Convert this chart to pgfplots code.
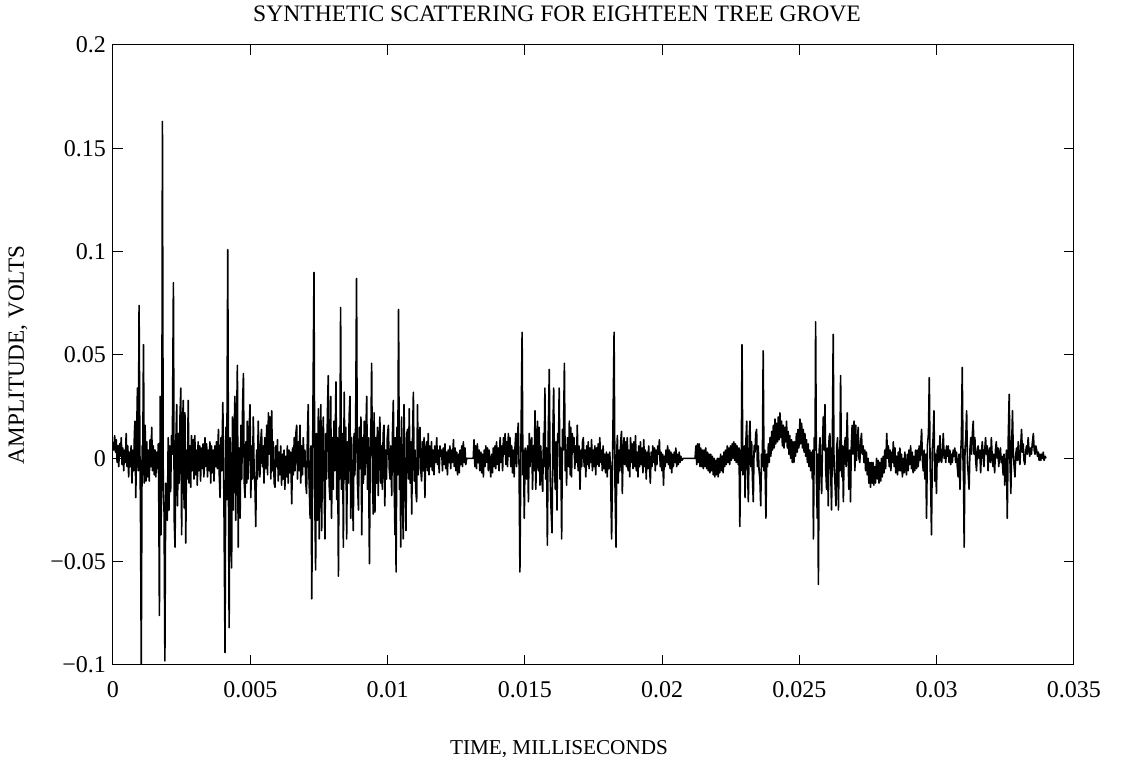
\documentclass[border=0pt]{standalone}
\usepackage{fontspec}
\setmainfont{Liberation Serif}
\usepackage{pgfplots}
\pgfplotsset{compat=1.18}
\begin{document}
\begin{tikzpicture}
\path[use as bounding box] (-56.5pt,-49.5pt) rectangle (504pt,332.5pt);
\begin{axis}[at={(0,0)},anchor=south west,scale only axis,
  width=480.5pt,height=310pt,
  xmin=0,xmax=0.035,ymin=-0.1,ymax=0.2,
  xtick={0,0.005,0.01,0.015,0.02,0.025,0.03,0.035},
  xticklabels={0,0.005,0.01,0.015,0.02,0.025,0.03,0.035},
  ytick={-0.1,-0.05,0,0.05,0.1,0.15,0.2},
  yticklabels={−0.1,−0.05,0,0.05,0.1,0.15,0.2},
  scaled x ticks=false,scaled y ticks=false,
  tick align=inside,major tick length=5pt,
  ticklabel style={font=\fontsize{12}{14}\selectfont},
  xticklabel style={yshift=-4.5pt},
  axis line style={line width=0.5pt},
  tick style={black,line width=0.5pt}]
\addplot[black,line width=0.8pt,line join=round] coordinates {
(0,0.008)(0.00003,0.004)(0.00006,0.011)(0.00009,0.003)(0.00012,0.009)(0.00015,-0.002)(0.00018,0.006)(0.00021,-0.004)(0.00024,0.007)(0.00027,0.001)(0.0003,0.01)(0.00033,-0.003)(0.00036,0.005)(0.00039,-0.006)(0.00042,0.004)(0.00045,-0.002)(0.00048,0.012)(0.00051,-0.004)(0.00054,0.006)(0.00057,-0.009)(0.0006,0.003)
(0.00063,-0.004)(0.00066,0.006)(0.00069,-0.012)(0.00072,0.004)(0.00075,-0.006)(0.00078,0.012)(0.0008,0.018)(0.00083,-0.019)(0.00086,0.01)(0.00089,0.034)(0.00092,-0.006)(0.00095,0.074)(0.00098,0.003)(0.001,-0.022)(0.00103,-0.1)(0.00106,0.006)(0.00108,-0.008)(0.00111,0.055)(0.00114,-0.012)(0.00117,0.016)(0.0012,-0.011)(0.00123,0.008)(0.00126,-0.009)(0.00129,0.004)(0.00132,-0.011)(0.00135,0.009)(0.00138,-0.004)(0.00141,0.015)(0.00144,-0.006)(0.00147,0.006)(0.0015,-0.008)(0.00153,0.004)(0.00156,-0.009)(0.00159,0.003)(0.00162,-0.005)(0.00165,0.007)(0.00167,-0.024)(0.00169,-0.076)(0.00172,0.03)(0.00175,-0.037)(0.00178,0.01)(0.0018,0.163)(0.00183,-0.015)(0.00186,-0.026)(0.00189,-0.098)(0.00192,-0.012)(0.00195,-0.021)(0.00198,-0.03)(0.00201,0.01)(0.00204,-0.025)(0.00207,0.006)(0.0021,-0.016)(0.00213,0.011)(0.00216,0.002)(0.0022,0.085)(0.00223,-0.03)(0.00226,-0.043)(0.00229,0.008)(0.00232,0.026)(0.00235,-0.023)(0.00238,0.012)(0.00241,-0.012)(0.00244,0.02)(0.00247,0.034)(0.0025,-0.037)(0.00253,0.016)(0.00256,0.028)(0.00259,-0.024)(0.00262,0.022)(0.00265,-0.041)(0.00268,0.004)(0.00271,-0.01)(0.00274,0.028)(0.00277,-0.012)(0.0028,0.006)(0.00283,-0.014)(0.00286,0.011)(0.00289,-0.006)(0.00292,0.009)(0.00295,-0.01)(0.00298,0.011)(0.00301,-0.008)(0.00304,0.004)(0.00307,-0.013)(0.0031,0.008)(0.00313,-0.006)(0.00316,0.006)(0.00319,-0.011)(0.00322,0.005)(0.00325,-0.005)(0.00328,0.007)(0.00331,-0.009)(0.00335,0.01)(0.00338,-0.004)(0.00341,0.007)(0.00344,-0.009)(0.00347,0.004)(0.0035,-0.006)(0.00353,0.008)(0.00356,-0.012)(0.00359,0.006)(0.00362,-0.007)(0.00365,0.004)(0.00368,-0.011)(0.00371,0.006)(0.00374,-0.004)(0.00377,0.008)(0.0038,-0.005)(0.00384,0.014)(0.00387,-0.008)(0.0039,-0.019)(0.00393,0.01)(0.00396,-0.006)(0.004,0.027)(0.00404,-0.02)(0.00408,-0.094)(0.00411,0.015)(0.00414,-0.02)(0.00418,0.101)(0.00421,-0.03)(0.00423,-0.082)(0.00426,0.01)(0.00429,-0.015)(0.00432,-0.053)(0.00435,0.02)(0.00438,-0.025)(0.00441,0.01)(0.00444,0.03)(0.00447,-0.03)(0.0045,0.015)(0.00453,0.045)(0.00456,-0.043)(0.00459,0.005)(0.00463,-0.029)(0.00466,0.016)(0.00469,-0.01)(0.00472,0.025)(0.00475,0.041)(0.00478,-0.012)(0.00481,-0.019)(0.00484,0.008)(0.00487,-0.012)(0.00489,0.018)(0.00492,-0.01)(0.00495,0.01)(0.00499,0.026)(0.00502,-0.019)(0.00505,0.006)(0.00508,-0.01)(0.00511,0.02)(0.00514,-0.006)(0.00517,-0.013)(0.0052,-0.033)
(0.00523,0.004)(0.00526,-0.01)(0.00529,0.018)(0.00532,-0.002)(0.00535,-0.009)(0.00538,0.008)(0.00541,0.014)(0.00544,-0.004)(0.00547,0.006)(0.0055,-0.012)(0.00553,0.01)(0.00556,-0.005)(0.0056,0.016)(0.00563,-0.008)(0.00566,0.022)(0.00569,0.002)(0.00572,0.02)(0.00575,-0.01)(0.00578,0.023)(0.00581,-0.006)(0.00584,0.008)(0.00587,-0.012)(0.0059,-0.014)(0.00593,0.006)(0.00596,-0.004)(0.00599,0.009)(0.00602,-0.011)(0.00605,0.003)(0.00608,-0.008)(0.00611,0.006)(0.00614,-0.013)(0.00617,0.002)(0.0062,-0.01)(0.00623,0.004)(0.00626,-0.015)(0.00629,0.001)(0.00632,-0.009)(0.00635,0.006)(0.00638,-0.012)(0.00641,0.004)(0.00644,-0.007)(0.00647,0.003)(0.00651,-0.022)(0.00654,0.005)(0.00657,-0.008)(0.0066,0.01)(0.00663,-0.006)(0.00666,0.012)(0.00669,0.016)(0.00672,-0.01)(0.00675,0.008)(0.00678,-0.006)(0.00681,0.016)(0.00684,-0.012)(0.00687,0.006)(0.0069,-0.008)(0.00693,0.01)(0.00696,-0.004)(0.00699,0.004)(0.00702,-0.012)(0.00705,-0.017)(0.00708,0.01)(0.00711,0.026)(0.00714,-0.01)(0.00718,-0.029)(0.00721,0.006)(0.00724,-0.068)(0.00728,0.02)(0.00732,0.09)(0.00735,-0.02)(0.00738,-0.054)(0.00741,0.012)(0.00744,-0.03)(0.00748,0.024)(0.00751,-0.039)(0.00754,0.01)(0.00757,0.026)(0.0076,-0.035)(0.00763,0.006)(0.00766,0.02)(0.00769,-0.015)(0.00772,-0.039)(0.00775,0.012)(0.00778,-0.01)(0.00781,0.022)(0.00784,0.04)(0.00787,-0.012)(0.0079,-0.02)(0.00793,0.03)(0.00796,-0.029)(0.00799,0.01)(0.00802,-0.015)(0.00805,0.018)(0.00808,-0.006)(0.00812,0.037)(0.00815,-0.02)(0.00818,0.01)(0.00821,-0.057)(0.00824,0.015)(0.00826,-0.01)(0.00829,0.073)(0.00832,-0.015)(0.00836,0.012)(0.00839,-0.043)(0.00842,0.032)(0.00845,-0.01)(0.00848,0.015)(0.00851,-0.039)(0.00854,0.008)(0.00857,-0.012)(0.0086,0.02)(0.00863,0.03)(0.00866,-0.029)(0.00869,0.01)(0.00872,-0.015)(0.00875,-0.035)(0.00878,0.012)(0.00881,-0.008)(0.00884,0.02)(0.00887,0.087)(0.0089,-0.01)(0.00894,-0.025)(0.00897,0.015)(0.009,-0.005)(0.00903,0.02)(0.00906,-0.037)(0.00909,0.01)(0.00912,-0.012)(0.00915,0.018)(0.00918,-0.008)(0.00921,0.012)(0.00924,0.03)(0.00927,-0.015)(0.0093,0.01)(0.00934,-0.051)(0.00937,0.005)(0.0094,0.02)(0.00942,0.046)(0.00945,-0.01)(0.00948,-0.027)(0.00951,0.022)(0.00954,-0.026)
(0.00957,0.01)(0.0096,-0.012)(0.00963,0.015)(0.00966,-0.018)(0.00969,0.008)(0.00972,0.02)(0.00975,-0.012)(0.00978,0.006)(0.00981,-0.015)(0.00984,0.012)(0.00987,0.016)(0.0099,-0.023)(0.00993,0.004)(0.00996,-0.01)(0.00999,0.01)(0.01003,0.016)(0.01006,-0.005)(0.01009,-0.01)(0.01012,0.006)(0.01015,-0.018)(0.01018,0.012)(0.01021,0.028)(0.01024,-0.012)(0.01027,-0.037)(0.01029,0.01)(0.01031,-0.055)(0.01034,0.015)(0.01037,-0.008)(0.0104,0.072)(0.01043,-0.015)(0.01045,0.01)(0.01048,-0.043)(0.01051,0.02)(0.01054,-0.015)(0.01057,-0.039)(0.0106,0.026)(0.01063,-0.006)(0.01067,-0.035)(0.0107,0.012)(0.01073,0.014)(0.01076,-0.01)(0.01079,0.024)(0.01082,-0.012)(0.01085,0.008)(0.01088,-0.027)(0.01091,0.01)(0.01094,0.032)(0.01097,-0.011)(0.011,0.004)(0.01103,-0.016)(0.01106,-0.021)(0.01109,0.026)(0.01112,-0.008)(0.01115,0.01)(0.01118,0.015)(0.01121,-0.006)(0.01124,-0.011)(0.01127,0.008)(0.0113,-0.006)(0.01133,0.01)(0.01136,-0.019)(0.01139,0.004)(0.01142,0.008)(0.01145,-0.006)(0.01148,0.012)(0.01151,-0.008)(0.01154,0.006)
(0.01157,-0.004)(0.0116,0.008)(0.01163,-0.006)(0.01166,0.004)(0.01169,-0.008)(0.01172,0.006)(0.01175,-0.002)(0.01179,0.01)(0.01182,-0.003)(0.01185,0.004)(0.01188,-0.007)(0.01191,0.006)(0.01194,0.001)(0.01197,0.004)(0.012,-0.006)(0.01203,0.005)(0.01206,-0.003)(0.01209,0.007)(0.01212,-0.005)(0.01215,0.003)(0.01218,-0.008)(0.01221,0.004)(0.01224,-0.002)(0.01227,0.006)(0.0123,-0.005)(0.01233,0.004)(0.01236,-0.002)(0.0124,0.009)(0.01243,-0.004)(0.01246,0.005)(0.01249,-0.006)(0.01252,0.003)(0.01255,-0.008)(0.01258,0.002)(0.01261,-0.007)(0.01264,0.004)(0.01267,-0.003)(0.0127,0.006)(0.01273,-0.004)(0.01276,0.008)(0.01279,-0.002)(0.01282,0.005)(0.01285,-0.003)(0.01288,0)(0.01312,0)
(0.01315,0.009)(0.01318,-0.004)(0.01321,0.006)(0.01324,-0.005)(0.01327,0.007)(0.0133,-0.002)(0.01333,0.004)(0.01336,-0.006)(0.0134,0.003)(0.01343,-0.007)(0.01346,0.002)(0.01349,-0.009)(0.01352,0.004)(0.01355,-0.004)(0.01358,0.006)(0.01361,-0.002)(0.01364,0.005)(0.01367,-0.006)(0.0137,0.004)(0.01373,-0.003)
(0.01376,-0.009)(0.01379,0.002)(0.01382,-0.007)(0.01385,0.005)(0.01388,-0.004)(0.01391,0.006)(0.01394,-0.005)(0.01397,0.008)(0.014,-0.003)(0.01403,0.005)(0.01406,-0.006)(0.0141,0.01)(0.01413,-0.002)(0.01416,0.006)(0.01419,-0.006)(0.01422,0.01)(0.01425,0.002)(0.01428,0.012)(0.01431,-0.003)(0.01434,0.008)(0.01437,-0.004)(0.0144,0.012)(0.01443,0.001)(0.01446,0.01)(0.01449,-0.004)(0.01452,0.006)(0.01455,-0.007)(0.01458,0.004)(0.01461,-0.009)(0.01464,0.005)(0.01467,0.012)(0.0147,-0.004)(0.01473,0.01)(0.01476,0.017)(0.01479,-0.004)(0.01482,-0.055)(0.01486,0.01)(0.0149,0.061)(0.01493,-0.008)(0.01495,0.004)(0.01498,-0.029)(0.01501,0.005)(0.01504,0.002)(0.01507,-0.01)(0.0151,0.006)(0.01513,-0.021)(0.01516,0.012)(0.01519,-0.004)(0.01522,0.008)(0.01525,0.01)(0.01528,-0.015)(0.01531,0.006)(0.01534,-0.006)(0.01537,0.023)(0.0154,-0.015)(0.01543,0.008)(0.01546,0.018)(0.01549,-0.006)(0.01552,0.015)(0.01555,-0.013)(0.01558,0.006)(0.01562,-0.01)(0.01565,-0.016)(0.01568,0.012)(0.0157,-0.004)(0.01573,0.034)(0.01576,-0.01)(0.01579,0.005)(0.01582,-0.042)(0.01585,0.01)(0.01589,0.043)(0.01592,-0.008)(0.01595,-0.023)(0.01599,-0.036)(0.01602,0.012)(0.01605,0.034)(0.01608,-0.005)(0.01611,-0.015)(0.01614,0.008)(0.01617,-0.025)(0.0162,0.012)(0.01623,0.01)(0.01625,0.034)(0.01628,-0.01)(0.01631,0.005)(0.01634,-0.039)(0.01637,0.014)(0.0164,0.004)(0.01644,0.046)(0.01647,-0.006)(0.0165,0.004)(0.01652,-0.013)(0.01655,0.01)(0.01659,-0.004)(0.01662,0.018)(0.01665,-0.008)(0.01667,0.015)(0.0167,-0.009)(0.01673,0.012)(0.01676,0.003)(0.01679,0.01)(0.01682,-0.005)(0.01685,0.006)(0.01688,-0.002)(0.01691,0.016)(0.01694,-0.006)(0.01697,0.006)(0.01701,-0.015)(0.01704,0.004)(0.01707,-0.004)(0.0171,0.008)(0.01713,0.01)(0.01716,-0.004)(0.01719,0.004)(0.01722,-0.009)(0.01725,0.006)(0.01728,-0.003)(0.01731,0.008)(0.01734,-0.005)(0.01737,0.005)(0.0174,-0.002)(0.01743,0.009)(0.01746,-0.006)(0.01749,0.004)(0.01752,-0.004)(0.01755,0.006)(0.01758,-0.008)(0.01761,0.005)(0.01764,-0.003)(0.01767,0.007)(0.0177,-0.004)(0.01773,0.01)(0.01776,-0.002)(0.01779,0.004)(0.01782,-0.006)(0.01785,0.006)(0.01788,-0.005)(0.01791,0.002)(0.01794,-0.007)(0.01797,0.003)(0.018,-0.009)(0.01803,0.002)(0.01806,-0.005)(0.01809,0.003)(0.01812,-0.004)(0.01816,-0.039)(0.0182,0.005)(0.01825,0.061)(0.01828,-0.01)(0.01832,-0.043)(0.01835,0.004)(0.01837,0.011)(0.0184,-0.012)(0.01843,0.004)(0.01846,-0.006)(0.01849,0.008)(0.01852,0.013)(0.01855,-0.017)(0.01858,0.004)
(0.01861,0.01)(0.01864,-0.003)(0.01867,0.008)(0.0187,-0.004)(0.01873,0.01)(0.01876,-0.006)(0.01879,0.004)(0.01882,-0.009)(0.01885,0.01)(0.01888,-0.002)(0.01891,0.007)(0.01894,-0.005)(0.01897,0.008)(0.019,-0.004)(0.01903,0.011)(0.01906,-0.006)(0.01909,0.003)(0.01912,-0.009)(0.01915,0.006)(0.01918,-0.004)(0.01921,0.008)(0.01924,-0.003)(0.01927,0.005)(0.0193,-0.007)(0.01933,0.009)(0.01936,-0.004)(0.01939,0.004)(0.01942,-0.01)(0.01945,0.003)(0.01948,-0.005)(0.01951,0.006)(0.01954,-0.004)(0.01957,-0.012)(0.0196,0.003)(0.01963,-0.004)(0.01966,0.006)(0.01969,-0.002)(0.01972,0.005)(0.01975,-0.006)(0.01978,0.004)(0.01981,-0.003)(0.01984,0.006)(0.01987,0.002)(0.0199,0.009)(0.01993,-0.004)(0.01996,0.003)(0.01999,-0.006)(0.02002,0.002)(0.02005,-0.013)(0.02008,0.001)(0.02011,-0.004)(0.02014,0.004)(0.02017,-0.002)(0.0202,0.006)(0.02023,-0.003)(0.02026,0.004)(0.02029,-0.005)(0.02032,0.003)(0.02035,-0.007)(0.02038,0.002)(0.02041,-0.004)(0.02044,0.003)(0.02047,-0.002)(0.0205,0.005)(0.02053,-0.004)(0.02056,0.002)(0.02059,-0.003)(0.02062,0.003)(0.02065,-0.002)(0.02068,0.001)(0.02072,-0.001)(0.02077,0)(0.0212,0)
(0.02123,0.006)(0.02126,-0.003)(0.02129,0.007)(0.02132,-0.002)(0.02135,0.007)(0.02138,-0.004)(0.02141,0.005)(0.02144,-0.004)(0.02147,0.004)(0.0215,-0.005)(0.02153,0.004)(0.02156,-0.004)(0.02159,0.005)(0.02162,-0.005)(0.02165,0.003)(0.02168,-0.006)(0.02171,0.002)(0.02174,-0.007)(0.02177,0.002)(0.0218,-0.006)(0.02183,0.001)(0.02186,-0.008)(0.02189,0)(0.02192,-0.009)(0.02195,-0.001)(0.02198,-0.008)(0.02201,0)(0.02204,-0.009)(0.02207,0)(0.0221,-0.007)(0.02213,0.002)(0.02216,-0.006)(0.02219,0.001)(0.02222,-0.007)(0.02225,0.003)(0.02228,-0.004)(0.02231,0.004)(0.02234,-0.003)(0.02237,0.006)(0.0224,-0.002)(0.02243,0.005)(0.02246,-0.003)
(0.02249,0.006)(0.02252,-0.001)(0.02255,0.007)(0.02258,0)(0.02261,0.008)(0.02264,-0.001)(0.02267,0.007)(0.0227,-0.002)(0.02273,0.006)(0.02277,-0.003)(0.0228,0.005)(0.02283,-0.033)(0.02286,0.004)(0.02288,-0.006)(0.02291,0.055)(0.02294,-0.008)(0.02297,-0.007)(0.023,0.006)(0.02302,-0.019)(0.02305,0.008)(0.02308,0.018)(0.02311,-0.005)(0.02314,-0.021)(0.02317,0.01)(0.0232,0.018)(0.02323,-0.004)(0.02326,0.008)(0.02329,-0.01)(0.02332,-0.021)(0.02335,0.006)(0.02338,0.003)(0.02341,0.012)(0.02344,0.014)(0.02347,-0.004)(0.0235,0.006)(0.02353,-0.006)(0.02356,-0.01)(0.02359,-0.023)(0.02362,0.002)(0.02365,-0.004)(0.02368,0.052)(0.02371,-0.006)(0.02374,0.004)(0.02378,-0.029)(0.02381,0.002)(0.02384,-0.004)
(0.02387,0.007)(0.0239,-0.002)(0.02393,0.01)(0.02396,0.001)(0.02399,0.013)(0.02402,0.004)(0.02405,0.016)(0.02408,0.005)(0.02411,0.019)(0.02414,0.007)(0.02417,0.017)(0.0242,0.008)(0.02423,0.02)(0.02426,0.009)(0.02429,0.022)(0.02432,0.01)(0.02435,0.018)(0.02438,0.006)(0.02441,0.016)(0.02444,0.005)(0.02447,0.015)(0.0245,0.008)(0.02453,0.018)(0.02456,0.005)(0.02459,0.013)(0.02462,0.002)(0.02465,0.011)(0.02468,0)(0.02471,0.009)(0.02474,-0.002)(0.02477,0.008)(0.0248,-0.002)(0.02483,0.008)(0.02486,0.001)(0.02489,0.012)(0.02492,0.003)(0.02495,0.014)(0.02498,0.005)(0.02502,0.019)(0.02505,0.007)(0.02508,0.017)(0.02511,0.005)(0.02514,0.014)(0.02517,0.003)(0.0252,0.012)(0.02523,0.001)(0.02526,0.009)(0.02529,-0.002)(0.02532,0.007)(0.02535,-0.004)(0.02538,0.004)(0.02541,-0.006)(0.02544,0.003)
(0.02547,-0.01)(0.02549,0.004)(0.02551,-0.039)(0.02554,0.01)(0.02557,0.004)(0.02559,0.066)(0.02562,-0.01)(0.02565,-0.029)(0.02567,0.002)(0.02569,-0.061)(0.02572,0.004)(0.02575,0.01)(0.02578,-0.006)(0.02581,-0.017)(0.02584,0.006)(0.02587,0.02)(0.0259,0.004)(0.02593,0.026)(0.02596,-0.006)(0.02599,-0.015)(0.02602,0.005)(0.02605,-0.023)(0.02608,0.01)(0.02611,0.012)(0.02614,-0.006)(0.02617,-0.025)(0.0262,0.008)(0.02623,0.06)(0.02626,-0.004)(0.02629,-0.01)(0.02633,-0.023)(0.02636,0.006)(0.02639,0.01)(0.02642,-0.025)(0.02645,0.004)(0.02647,-0.006)(0.0265,0.04)(0.02653,-0.004)(0.02655,-0.009)(0.02657,0.006)(0.0266,-0.021)(0.02663,0.004)(0.02667,0.01)(0.0267,-0.004)(0.02674,0.022)(0.02677,0.002)(0.0268,-0.015)(0.02683,0.004)(0.02686,-0.021)(0.02689,0.006)(0.02692,0.016)(0.02695,0.002)(0.02699,0.018)(0.02702,-0.006)
(0.02705,0.016)(0.02708,-0.001)(0.02711,0.008)(0.02714,0.015)(0.02717,0)(0.0272,-0.002)(0.02723,0.008)(0.02726,0.012)(0.02729,0.002)(0.02732,0.006)(0.02735,-0.002)(0.02738,0.004)(0.02741,-0.006)(0.02744,0.003)(0.02747,-0.008)(0.0275,0)(0.02753,-0.012)(0.02756,-0.002)(0.02759,-0.014)(0.02762,-0.002)(0.02765,-0.012)(0.02768,-0.002)(0.02771,-0.013)(0.02774,-0.004)(0.02777,-0.012)(0.02781,0)(0.02784,-0.01)(0.02787,-0.001)(0.0279,-0.012)(0.02793,-0.002)(0.02796,-0.011)(0.02799,0)(0.02802,-0.009)(0.02805,0.001)(0.02808,-0.007)(0.02811,0.004)(0.02814,-0.005)(0.02818,0.012)(0.02821,0)(0.02824,0.006)(0.02827,-0.004)(0.0283,0.004)(0.02833,-0.006)(0.02836,0.003)(0.02839,-0.002)(0.02842,0.008)(0.02845,-0.004)(0.02848,0.005)(0.02851,-0.007)(0.02854,0.001)(0.02857,-0.008)(0.0286,0.003)(0.02863,-0.006)(0.02866,0.005)(0.02869,-0.006)(0.02872,0.002)(0.02875,-0.009)(0.02878,0)(0.02881,-0.007)(0.02884,0.003)(0.02887,-0.005)(0.0289,-0.008)(0.02893,0.002)(0.02896,-0.006)(0.02899,0.004)(0.02902,-0.003)(0.02905,0.006)(0.02908,-0.005)(0.02911,0.003)(0.02914,-0.007)(0.02917,0.001)(0.0292,-0.006)(0.02923,0.004)(0.02927,-0.005)(0.0293,0.004)(0.02933,-0.004)(0.02936,0.006)(0.02939,-0.001)(0.02942,0.006)(0.02945,0.014)(0.02948,-0.001)(0.02951,-0.006)(0.02954,0.004)(0.02957,-0.01)(0.0296,0.002)(0.02963,-0.029)(0.02966,0.006)(0.0297,0.012)(0.02973,0.039)(0.02976,-0.004)(0.02978,-0.012)(0.02981,-0.037)(0.02984,0.004)(0.02987,0.01)(0.0299,0.023)(0.02993,-0.011)(0.02996,0.002)(0.02999,-0.017)(0.03002,0.004)(0.03005,0.006)(0.03008,-0.002)(0.03012,0.011)(0.03015,-0.001)(0.03018,-0.002)(0.03021,0.004)(0.03024,0.012)(0.03027,0)(0.0303,0.004)(0.03033,-0.002)(0.03036,0.006)(0.03039,0.001)(0.03042,0.006)(0.03045,-0.002)(0.03048,0.004)(0.03051,-0.003)(0.03054,0.002)(0.03057,-0.002)(0.0306,0.004)(0.03063,0.001)(0.03066,0.005)(0.03069,-0.002)(0.03072,0.003)(0.03075,-0.004)(0.03078,-0.009)(0.03081,0.002)(0.03085,-0.015)(0.03088,0.004)(0.0309,0.01)(0.03093,0.044)(0.03096,-0.002)(0.03098,-0.012)(0.031,-0.043)(0.03103,0.004)(0.03106,0.01)(0.03109,0.023)(0.03112,-0.002)(0.03115,-0.008)(0.03118,-0.015)(0.03121,0.004)(0.03124,0.01)(0.03127,0.002)(0.0313,0.012)(0.03133,0.018)
(0.03136,0.002)(0.03139,0.01)(0.03142,-0.001)(0.03145,-0.006)(0.03148,0.004)(0.03151,0.006)(0.03154,0)(0.03157,0.004)(0.0316,-0.007)(0.03163,0.003)(0.03166,0.008)(0.03169,0.001)(0.03172,-0.004)(0.03175,0.004)(0.03178,0.01)(0.03181,0.002)(0.03184,0.006)(0.03187,-0.006)(0.0319,0.003)(0.03193,0.005)(0.03196,-0.002)(0.03199,0.01)(0.03202,0.001)(0.03205,-0.004)(0.03208,0.002)(0.03211,-0.007)(0.03214,0.004)(0.03217,0.008)(0.0322,0)(0.03223,0.005)(0.03226,-0.004)(0.03229,0.002)(0.03232,0.005)(0.03235,-0.002)(0.03238,0.001)(0.03242,-0.008)(0.03245,0.002)(0.03248,-0.013)(0.03251,-0.004)(0.03254,0.004)(0.03257,-0.029)(0.0326,0.006)(0.03264,0.031)(0.03267,-0.002)(0.0327,-0.017)(0.03273,0.006)(0.03276,0.023)(0.03279,0.002)(0.03282,-0.004)(0.03285,-0.009)(0.03288,0.002)(0.03291,0.005)(0.03294,-0.001)(0.03297,0.008)(0.033,0.001)(0.03303,-0.003)(0.03306,0.006)(0.03309,0.014)(0.03312,0.003)(0.03315,0.007)(0.03318,-0.001)(0.03321,-0.003)(0.03324,0.003)(0.03327,0.006)(0.0333,0.002)(0.03333,0.01)(0.03336,0.004)(0.03339,0.001)(0.03342,0.005)(0.03345,0.002)(0.03348,0.007)(0.03352,0.012)(0.03355,0.004)(0.03358,0.002)(0.03361,0.006)(0.03364,0.004)(0.03367,0.001)(0.0337,0.003)(0.03373,-0.001)(0.03376,0.002)(0.03379,-0.001)(0.03382,0.002)(0.03385,0)(0.03388,0.003)(0.03391,-0.001)(0.03395,0.001)(0.03398,0)
};
\end{axis}
\node[font=\fontsize{11.8}{14}\selectfont] at (222pt,325.5pt) {SYNTHETIC SCATTERING FOR EIGHTEEN TREE GROVE};
\node[font=\fontsize{10.6}{13}\selectfont] at (223pt,-42pt) {TIME, MILLISECONDS};
\node[font=\fontsize{11.6}{14}\selectfont,rotate=90] at (-47.5pt,155pt) {AMPLITUDE, VOLTS};
\end{tikzpicture}
\end{document}
